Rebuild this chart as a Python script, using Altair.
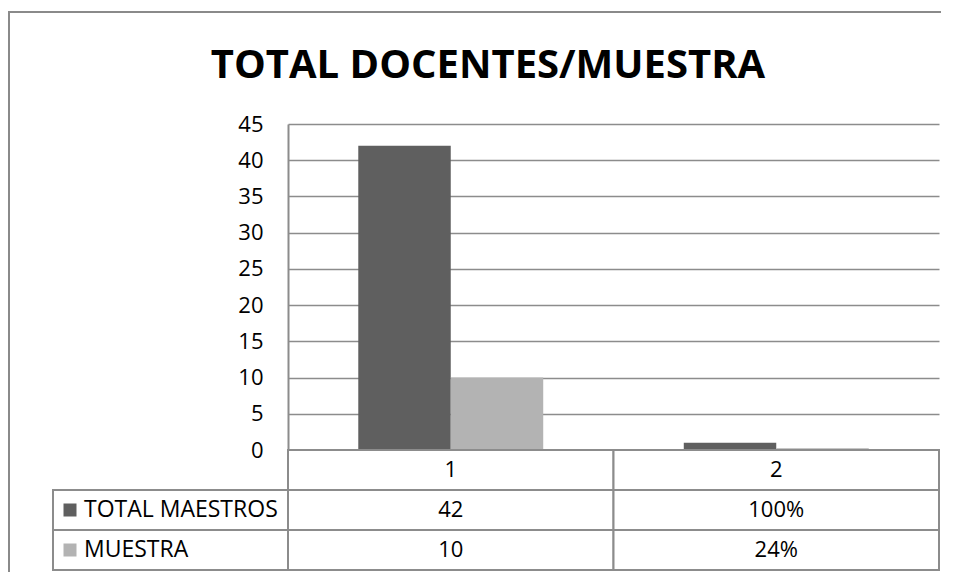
import altair as alt
import pandas as pd

# ---- data ----
categories = ["1", "2"]
series = ["TOTAL MAESTROS", "MUESTRA"]
total_maestros = [42, 1.0]      # cat 2 shown as 100%
muestra = [10, 0.24]            # cat 2 shown as 24%
value_formats = ["num", "pct"]  # how each category is printed in the table
y_ticks = [0, 5, 10, 15, 20, 25, 30, 35, 40, 45]
title_text = "TOTAL DOCENTES/MUESTRA"
series_colors = ["#5f5f5f", "#b3b3b3"]
row_order = ["header"] + series

FONT = "Open Sans"
GRID = "#8c8c8c"

# ---- tables built from the lists ----
values_by_series = {"TOTAL MAESTROS": total_maestros, "MUESTRA": muestra}


def fmt(v, kind):
    return f"{v:.0%}" if kind == "pct" else f"{v:g}"


bar_rows = []
table_rows = []
for c in categories:
    table_rows.append({"cat": c, "row": "header", "txt": c})
for s in series:
    for c, v, k in zip(categories, values_by_series[s], value_formats):
        bar_rows.append({"cat": c, "series": s, "value": v})
        table_rows.append({"cat": c, "row": s, "txt": fmt(v, k)})
df_bars = pd.DataFrame(bar_rows)
df_table = pd.DataFrame(table_rows)
df_left = pd.DataFrame({"row": series, "series": series})
df_one = pd.DataFrame({"a": [0]})

W, H = 651, 326
PAD = {"left": 280, "top": 116, "right": 2, "bottom": 122}

x_enc = alt.X("cat:N", scale=alt.Scale(domain=categories, paddingInner=0, paddingOuter=0), axis=None)
row_scale = alt.Scale(domain=row_order, range=[H, H + 120], paddingInner=0, paddingOuter=0)
color_enc = alt.Color("series:N", scale=alt.Scale(domain=series, range=series_colors), legend=None)

bars = alt.Chart(df_bars).mark_bar().encode(
    x=x_enc,
    xOffset=alt.XOffset("series:N", scale=alt.Scale(domain=series, paddingInner=0, paddingOuter=0.76)),
    y=alt.Y(
        "value:Q",
        scale=alt.Scale(domain=[0, 45], nice=False),
        axis=alt.Axis(
            values=y_ticks, grid=True, gridColor=GRID, gridWidth=1.5,
            ticks=False, domain=True, domainColor=GRID, domainWidth=2,
            labelFont=FONT, labelFontSize=22, labelColor="black",
            labelPadding=25, title=None,
        ),
    ),
    color=color_enc,
)

table_cells = alt.Chart(df_table).mark_rect(fill="white", stroke=GRID, strokeWidth=2).encode(
    x=x_enc, y=alt.Y("row:N", scale=row_scale, axis=None)
)
table_text = alt.Chart(df_table).mark_text(font=FONT, fontSize=22, color="black").encode(
    x=x_enc, y=alt.Y("row:N", scale=row_scale, axis=None), text="txt:N"
)
left_cells = alt.Chart(df_left).mark_rect(fill="white", stroke=GRID, strokeWidth=2).encode(
    x=alt.value(-235), x2=alt.value(0), y=alt.Y("row:N", scale=row_scale, axis=None)
)
left_keys = alt.Chart(df_left).mark_square(size=169, opacity=1).encode(
    x=alt.value(-218), y=alt.Y("row:N", scale=row_scale, axis=None), color=color_enc
)
left_text = alt.Chart(df_left).mark_text(font=FONT, fontSize=23, color="black", align="left").encode(
    x=alt.value(-204), y=alt.Y("row:N", scale=row_scale, axis=None), text="row:N"
)

# outer chart frame: a thin filled strip for the top edge and one for the left edge
frame_top = alt.Chart(df_one).mark_rect(fill="#8a8a8a", strokeWidth=0).encode(
    x=alt.value(-PAD["left"]), x2=alt.value(W + PAD["right"]),
    y=alt.value(3 - PAD["top"]), y2=alt.value(5 - PAD["top"]),
)
frame_left = alt.Chart(df_one).mark_rect(fill="#8a8a8a", strokeWidth=0).encode(
    x=alt.value(0 - PAD["left"]), x2=alt.value(2 - PAD["left"]),
    y=alt.value(3 - PAD["top"]), y2=alt.value(H + PAD["bottom"]),
)
title = alt.Chart(df_one).mark_text(
    font=FONT, fontSize=40, fontWeight="bold", color="black", align="center", baseline="alphabetic"
).encode(x=alt.value(480 - PAD["left"]), y=alt.value(70 - PAD["top"]), text=alt.value(title_text))

chart = (
    alt.layer(title, bars, table_cells, table_text, left_cells, left_keys, left_text, frame_top, frame_left)
    .resolve_scale(y="independent")
    .properties(width=W, height=H, padding=PAD, autosize=alt.AutoSizeParams(type="none"), background="white")
    .configure_view(stroke=None)
)

chart.save("out.html", embed_options={"renderer": "svg", "actions": False})
